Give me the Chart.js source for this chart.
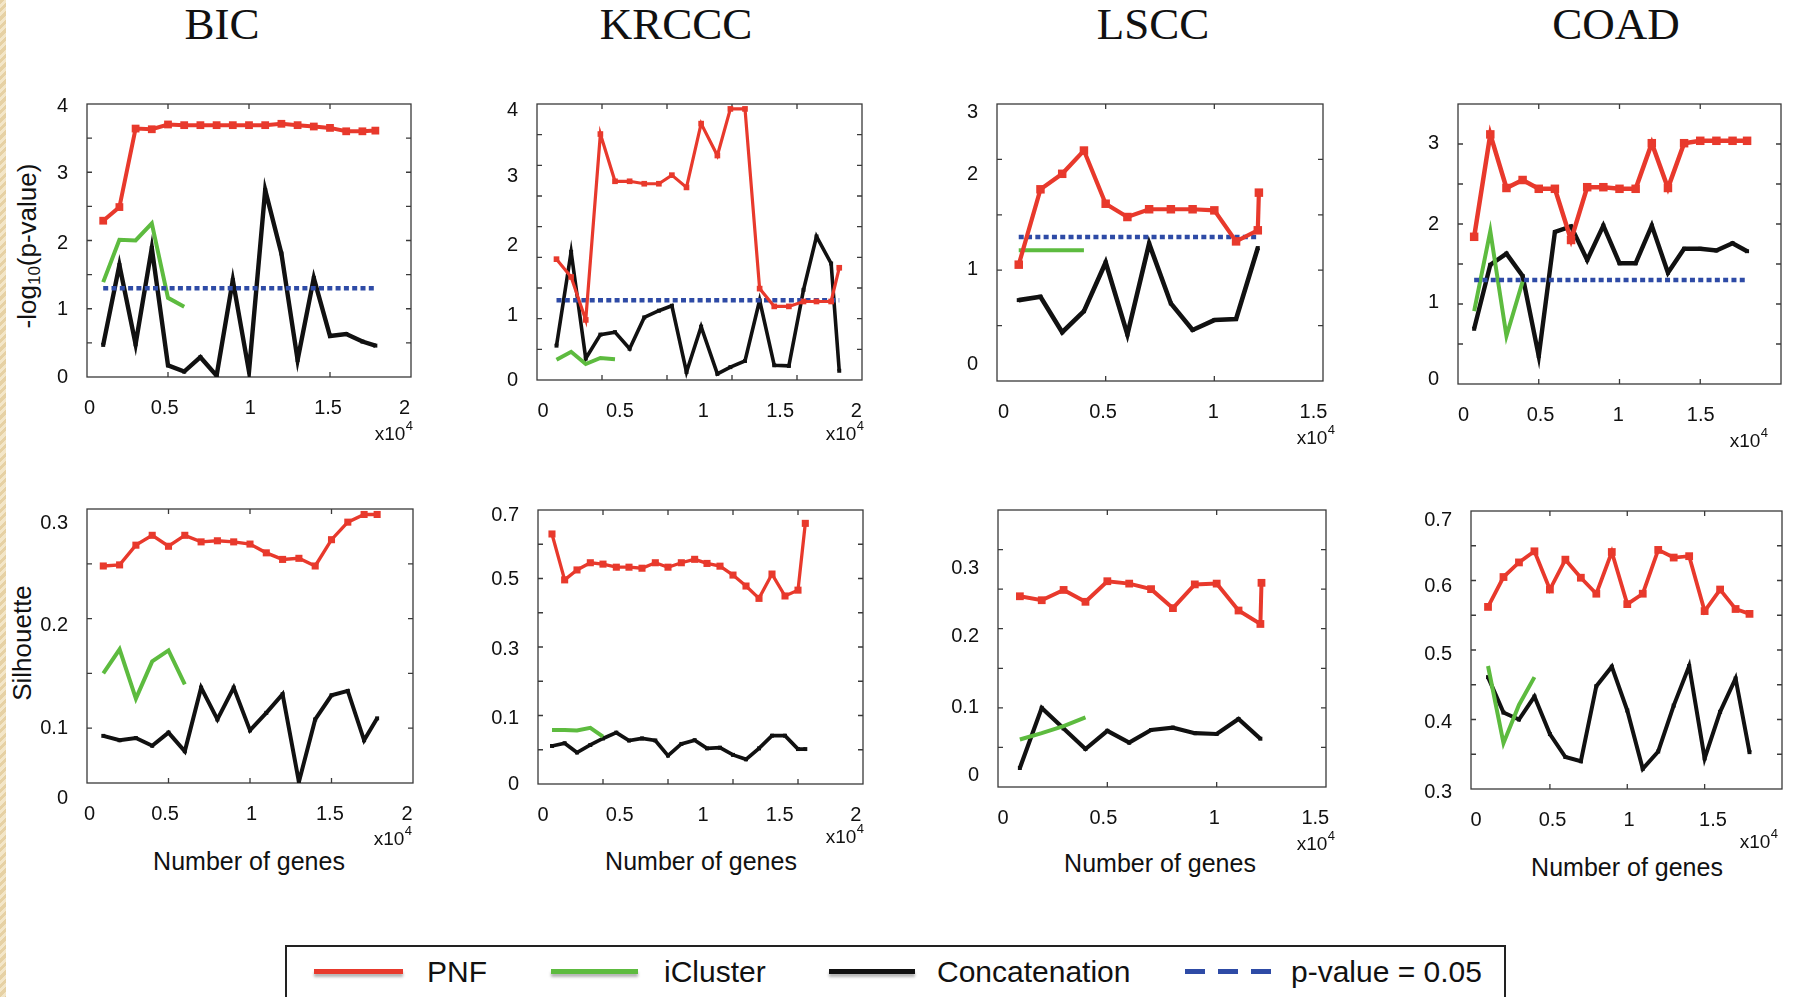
<!DOCTYPE html>
<html>
<head>
<meta charset="utf-8">
<script src="https://cdn.jsdelivr.net/npm/chart.js@4.4.0/dist/chart.umd.min.js"></script>
<style>
    body {
        margin: 0;
        width: 1796px;
        height: 997px;
        overflow: hidden;
        background: #fff;
        position: relative;
        font-family: Arial, "Liberation Sans", sans-serif;
        color: #111;
    }
    .strip {
        position: absolute; left: 0; top: 0; width: 6px; height: 997px;
        background: repeating-linear-gradient(135deg, #e6d1a4 0 3px, #f3e6c8 3px 6px);
    }
    .title {
        position: absolute; top: 2px; line-height: 45px;
        font-family: "Liberation Serif", "Times New Roman", serif;
        font-size: 45px; transform: translateX(-50%); white-space: nowrap;
    }
    .ytitle {
        position: absolute; font-size: 26px; white-space: nowrap;
        transform: translate(-50%, -50%) rotate(-90deg);
    }
    .ytitle sub { font-size: 17px; vertical-align: -4px; }
    .xtitle {
        position: absolute; font-size: 25px; line-height: 25px;
        transform: translateX(-50%); white-space: nowrap;
    }
    .legend {
        position: absolute; left: 285px; top: 945px; width: 1221px; height: 70px;
        border: 2px solid #222; box-sizing: border-box;
    }
    .sw {
        position: absolute; top: 969px; height: 5px;
        box-shadow: 0 3px 3px rgba(0, 0, 0, 0.3);
    }
    .lt {
        position: absolute; top: 957px; font-size: 30px; line-height: 30px; white-space: nowrap;
    }
</style>
</head>
<body>
<div class="strip"></div>

<div class="title" style="left:222px">BIC</div>
<div class="title" style="left:676px">KRCCC</div>
<div class="title" style="left:1153px">LSCC</div>
<div class="title" style="left:1616px">COAD</div>

<div class="ytitle" style="left:28px; top:246px">-log<sub>10</sub>(p-value)</div>
<div class="ytitle" style="left:22px; top:643px">Silhouette</div>

<div class="xtitle" style="left:249px; top:849px">Number of genes</div>
<div class="xtitle" style="left:701px; top:849px">Number of genes</div>
<div class="xtitle" style="left:1160px; top:851px">Number of genes</div>
<div class="xtitle" style="left:1627px; top:855px">Number of genes</div>

<div class="legend"></div>
<div class="sw" style="left:314px; width:89px; background:#e8392c"></div>
<div class="lt" style="left:427px">PNF</div>
<div class="sw" style="left:551px; width:87px; background:#5dbb3f"></div>
<div class="lt" style="left:664px">iCluster</div>
<div class="sw" style="left:829px; width:86px; background:#111"></div>
<div class="lt" style="left:937px">Concatenation</div>
<div class="sw" style="left:1185px; width:86px; background:repeating-linear-gradient(90deg, #2e4ba6 0 20px, transparent 20px 33px); box-shadow:none"></div>
<div class="lt" style="left:1291px">p-value = 0.05</div>

<script>
// ---- data (number of genes on x) ----
const bicGenes = [1000, 2000, 3000, 4000, 5000, 6000, 7000, 8000, 9000, 10000, 11000, 12000, 13000, 14000, 15000, 16000, 17000, 17800];
const bicPnfP = [2.29, 2.49, 3.64, 3.63, 3.70, 3.69, 3.69, 3.69, 3.69, 3.69, 3.69, 3.71, 3.69, 3.67, 3.65, 3.60, 3.60, 3.61];
const bicConcatP = [0.47, 1.64, 0.48, 1.89, 0.17, 0.08, 0.29, 0.02, 1.42, 0.08, 2.74, 1.81, 0.25, 1.45, 0.60, 0.63, 0.52, 0.46];
const bicIclusterP = [1.39, 2.01, 2.00, 2.25, 1.16, 1.03];
const bicPnfSil = [0.248, 0.249, 0.267, 0.276, 0.266, 0.276, 0.270, 0.271, 0.270, 0.268, 0.260, 0.254, 0.255, 0.248, 0.272, 0.288, 0.295, 0.295];
const bicConcatSil = [0.093, 0.089, 0.091, 0.084, 0.096, 0.079, 0.137, 0.108, 0.137, 0.098, 0.114, 0.131, 0.051, 0.108, 0.130, 0.134, 0.089, 0.109];
const bicIclusterSil = [0.150, 0.172, 0.127, 0.161, 0.171, 0.140];

const krcccTopGenes = [1200, 2100, 3000, 3900, 4800, 5700, 6600, 7500, 8300, 9200, 10100, 11100, 11900, 12800, 13700, 14600, 15500, 16400, 17200, 18100, 18600];
const krcccPnfP = [1.97, 1.68, 0.98, 4.01, 3.24, 3.24, 3.20, 3.20, 3.34, 3.14, 4.18, 3.66, 4.42, 4.42, 1.49, 1.20, 1.20, 1.28, 1.28, 1.28, 1.83];
const krcccConcatP = [0.56, 2.09, 0.35, 0.74, 0.78, 0.51, 1.02, 1.13, 1.21, 0.13, 0.87, 0.10, 0.21, 0.31, 1.30, 0.24, 0.23, 1.47, 2.34, 1.90, 0.15];
const krcccIclusterP = [0.33, 0.46, 0.26, 0.36, 0.34];
const krcccBotGenes = [860, 1640, 2400, 3220, 4000, 4820, 5600, 6400, 7220, 8000, 8820, 9640, 10400, 11200, 12000, 12800, 13600, 14400, 15200, 16000, 16450];
const krcccPnfSil = [0.730, 0.596, 0.625, 0.646, 0.642, 0.633, 0.633, 0.630, 0.646, 0.633, 0.646, 0.656, 0.644, 0.636, 0.610, 0.578, 0.542, 0.613, 0.549, 0.566, 0.761];
const krcccConcatSil = [0.111, 0.119, 0.092, 0.114, 0.133, 0.150, 0.127, 0.133, 0.127, 0.083, 0.117, 0.128, 0.104, 0.106, 0.085, 0.072, 0.104, 0.141, 0.141, 0.102, 0.102];
const krcccIclusterSil = [0.158, 0.158, 0.156, 0.164, 0.138];

const lsccGenes = [1000, 2000, 3000, 4000, 5000, 6000, 7000, 8000, 9000, 10000, 11000, 12000];
const lsccPnfGenes = [1000, 2000, 3000, 4000, 5000, 6000, 7000, 8000, 9000, 10000, 11000, 12000, 12050];
const lsccPnfP = [1.05, 1.73, 1.87, 2.08, 1.60, 1.48, 1.55, 1.55, 1.55, 1.54, 1.26, 1.36, 1.70];
const lsccConcatP = [0.73, 0.76, 0.44, 0.63, 1.07, 0.42, 1.24, 0.70, 0.46, 0.55, 0.56, 1.20];
const lsccIclusterP = [1.18, 1.18, 1.18, 1.18];
const lsccPnfSil = [0.241, 0.236, 0.249, 0.234, 0.260, 0.257, 0.250, 0.226, 0.256, 0.257, 0.223, 0.206, 0.258];
const lsccConcatSil = [0.024, 0.100, 0.074, 0.048, 0.071, 0.056, 0.072, 0.075, 0.068, 0.067, 0.086, 0.061];
const lsccIclusterSil = [0.060, 0.068, 0.077, 0.088];

const coadGenes = [1000, 2000, 3000, 4000, 5000, 6000, 7000, 8000, 9000, 10000, 11000, 12000, 13000, 14000, 15000, 16000, 17000, 17900];
const coadPnfP = [1.84, 3.12, 2.45, 2.55, 2.44, 2.44, 1.80, 2.46, 2.46, 2.44, 2.44, 3.01, 2.45, 3.01, 3.04, 3.04, 3.04, 3.04];
const coadConcatP = [0.69, 1.49, 1.63, 1.35, 0.35, 1.90, 1.97, 1.55, 1.98, 1.51, 1.51, 1.98, 1.39, 1.69, 1.69, 1.67, 1.76, 1.66];
const coadIclusterP = [0.91, 1.91, 0.60, 1.28];
const coadPnfSil = [0.562, 0.605, 0.626, 0.642, 0.587, 0.630, 0.604, 0.581, 0.641, 0.566, 0.581, 0.644, 0.633, 0.635, 0.556, 0.587, 0.559, 0.552];
const coadConcatSil = [0.461, 0.410, 0.400, 0.433, 0.379, 0.346, 0.340, 0.448, 0.476, 0.413, 0.329, 0.354, 0.420, 0.477, 0.344, 0.411, 0.459, 0.353];
const coadIclusterSil = [0.477, 0.366, 0.421, 0.461];

// p-value = 0.05 threshold line (-log10)
const pLineY = [1.3, 1.3];
const bicPLineX = [1000, 17800];
const krcccPLineX = [1200, 18600];
const lsccPLineX = [1000, 12000];
const coadPLineX = [1000, 17900];

// tick labels
const xText2 = ['0', '0.5', '1', '1.5', '2'];
const xText15 = ['0', '0.5', '1', '1.5'];
const yTextP4 = ['0', '1', '2', '3', '4'];
const yTextP3 = ['0', '1', '2', '3'];

const RED = '#e8392c', GREEN = '#5dbb3f', BLACK = '#111111', BLUE = '#2e4ba6';
Chart.defaults.font.family = 'Arial, "Liberation Sans", sans-serif';

const pad = { l: 70, t: 45, r: 45, b: 75 };

function series(xs, ys) {
    return ys.map((y, i) => ({ x: xs[i], y: y }));
}

// box, inward tick marks and the x10^4 exponent
const framePlugin = {
    id: 'frame',
    beforeDatasetsDraw(chart, args, opts) {
        const { ctx, chartArea: a, scales: { x, y } } = chart;
        ctx.save();
        ctx.strokeStyle = '#3a3a3a';
        ctx.lineWidth = 1.3;
        ctx.strokeRect(a.left, a.top, a.right - a.left, a.bottom - a.top);
        ctx.beginPath();
        opts.xMarks.forEach(v => {
            const px = x.getPixelForValue(v);
            ctx.moveTo(px, a.bottom); ctx.lineTo(px, a.bottom - 5);
            ctx.moveTo(px, a.top); ctx.lineTo(px, a.top + 5);
        });
        opts.yMarks.forEach(v => {
            const py = y.getPixelForValue(v);
            ctx.moveTo(a.left, py); ctx.lineTo(a.left + 5, py);
            ctx.moveTo(a.right, py); ctx.lineTo(a.right - 5, py);
        });
        ctx.stroke();
        ctx.restore();
    },
    afterDraw(chart, args, opts) {
        const { ctx, chartArea: a } = chart;
        ctx.save();
        ctx.fillStyle = '#111';
        ctx.font = '19px Arial, "Liberation Sans", sans-serif';
        const w1 = ctx.measureText('x10').width;
        const x0 = a.right - opts.expo[0] - (w1 + 10) / 2;
        const by = a.bottom + opts.expo[1];
        ctx.fillText('x10', x0, by);
        ctx.font = '13px Arial, "Liberation Sans", sans-serif';
        ctx.fillText('4', x0 + w1 + 0.5, by - 10);
        ctx.restore();
    }
};

const panels = [
    // top row: -log10(p-value)
    { box: [87, 104, 411, 377], xr: [0, 20000], yr: [0, 4],
      xTicks: [160, 4790, 10080, 14880, 19610], xText: xText2,
      yTicks: [0, 0.985, 1.96, 2.985, 3.96], yText: yTextP4,
      xMarks: [5000, 10000, 15000], yMarks: [0.5, 1, 1.5, 2, 2.5, 3, 3.5], expo: [16, 63],
      genes: bicGenes, pnfGenes: bicGenes, pnf: bicPnfP, concat: bicConcatP, icl: bicIclusterP, pLineX: bicPLineX,
      st: { redW: 4, redR: 5.5, blackW: 4.4 } },
    { box: [537, 104, 862, 380], xr: [0, 20000], yr: [0, 4.5],
      xTicks: [370, 5100, 10240, 14960, 19650], xText: xText2,
      yTicks: [0, 1.06, 2.20, 3.32, 4.40], yText: yTextP4,
      xMarks: [4000, 8000, 12000, 16000], yMarks: [0.5, 1, 1.5, 2, 2.5, 3, 3.5, 4], expo: [16, 60],
      genes: krcccTopGenes, pnfGenes: krcccTopGenes, pnf: krcccPnfP, concat: krcccConcatP, icl: krcccIclusterP, pLineX: krcccPLineX,
      st: { redW: 3.2, redR: 4, blackW: 3.6 } },
    { box: [997, 104, 1323, 381], xr: [0, 15000], yr: [0, 2.5],
      xTicks: [300, 4880, 9950, 14560], xText: xText15,
      yTicks: [0.145, 1.01, 1.86, 2.42], yText: yTextP3,
      xMarks: [5000, 10000], yMarks: [0.5, 1, 1.5, 2], expo: [6, 63],
      genes: lsccGenes, pnfGenes: lsccPnfGenes, pnf: lsccPnfP, concat: lsccConcatP, icl: lsccIclusterP, pLineX: lsccPLineX,
      st: { redW: 4.2, redR: 6, blackW: 4.6 } },
    { box: [1458, 104, 1781, 384], xr: [0, 20000], yr: [0, 3.5],
      xTicks: [350, 5110, 9920, 15030], xText: xText15,
      yTicks: [0.06, 1.02, 2.0, 3.01], yText: yTextP3,
      xMarks: [5000, 10000, 15000], yMarks: [0.5, 1, 1.5, 2, 2.5, 3], expo: [31, 63],
      genes: coadGenes, pnfGenes: coadGenes, pnf: coadPnfP, concat: coadConcatP, icl: coadIclusterP, pLineX: coadPLineX,
      st: { redW: 4.5, redR: 6, blackW: 4.4 } },
    // bottom row: silhouette
    { box: [87, 509, 413, 783], xr: [0, 20000], yr: [0.05, 0.3],
      xTicks: [150, 4790, 10090, 14900, 19640], xText: xText2,
      yTicks: [0.036, 0.100, 0.194, 0.287], yText: ['0', '0.1', '0.2', '0.3'],
      xMarks: [5000, 10000, 15000], yMarks: [0.1, 0.15, 0.2, 0.25], expo: [19, 62],
      genes: bicGenes, pnfGenes: bicGenes, pnf: bicPnfSil, concat: bicConcatSil, icl: bicIclusterSil,
      st: { redW: 3.4, redR: 5, blackW: 4 } },
    { box: [538, 510, 863, 784], xr: [0, 20000], yr: [0, 0.8],
      xTicks: [310, 5030, 10150, 14870, 19550], xText: xText2,
      yTicks: [0, 0.192, 0.393, 0.598, 0.785], yText: ['0', '0.1', '0.3', '0.5', '0.7'],
      xMarks: [4000, 8000, 12000, 16000], yMarks: [0.1, 0.2, 0.3, 0.4, 0.5, 0.6, 0.7], expo: [17, 59],
      genes: krcccBotGenes, pnfGenes: krcccBotGenes, pnf: krcccPnfSil, concat: krcccConcatSil, icl: krcccIclusterSil,
      st: { redW: 3.3, redR: 5, blackW: 3.7 } },
    { box: [998, 510, 1326, 787], xr: [0, 15000], yr: [0, 0.35],
      xTicks: [230, 4820, 9890, 14510], xText: xText15,
      yTicks: [0.0147, 0.101, 0.190, 0.276], yText: ['0', '0.1', '0.2', '0.3'],
      xMarks: [5000, 10000], yMarks: [0.05, 0.1, 0.15, 0.2, 0.25, 0.3], expo: [9, 63],
      genes: lsccGenes, pnfGenes: lsccPnfGenes, pnf: lsccPnfSil, concat: lsccConcatSil, icl: lsccIclusterSil,
      st: { redW: 4, redR: 5.5, blackW: 4.2 } },
    { box: [1471, 511, 1782, 789], xr: [-100, 20000], yr: [0.3, 0.7],
      xTicks: [230, 5170, 10120, 15540], xText: xText15,
      yTicks: [0.295, 0.395, 0.493, 0.591, 0.686], yText: ['0.3', '0.4', '0.5', '0.6', '0.7'],
      xMarks: [5000, 10000, 15000], yMarks: [0.35, 0.4, 0.45, 0.5, 0.55, 0.6, 0.65], expo: [22, 59],
      genes: coadGenes, pnfGenes: coadGenes, pnf: coadPnfSil, concat: coadConcatSil, icl: coadIclusterSil,
      st: { redW: 3.8, redR: 5.5, blackW: 4 } }
];

function makePanel(p) {
    const w = p.box[2] - p.box[0] + pad.l + pad.r;
    const h = p.box[3] - p.box[1] + pad.t + pad.b;
    const canvas = document.createElement('canvas');
    canvas.width = w;
    canvas.height = h;
    canvas.style.cssText = 'position:absolute;left:' + (p.box[0] - pad.l) + 'px;top:' + (p.box[1] - pad.t) +
        'px;width:' + w + 'px;height:' + h + 'px';
    document.body.appendChild(canvas);

    const datasets = [{
        label: 'PNF',
        data: series(p.pnfGenes, p.pnf),
        borderColor: RED, backgroundColor: RED,
        borderWidth: p.st.redW,
        pointStyle: 'rect', pointRadius: p.st.redR, pointBorderWidth: 0
    }];
    if (p.pLineX) {
        datasets.push({
            label: 'p-value = 0.05',
            data: series(p.pLineX, pLineY),
            borderColor: BLUE, borderWidth: 4.5, borderDash: [5, 3.3], borderCapStyle: 'butt',
            pointRadius: 0
        });
    }
    datasets.push({
        label: 'iCluster',
        data: series(p.genes, p.icl),
        borderColor: GREEN, borderWidth: 4, pointRadius: 0
    });
    datasets.push({
        label: 'Concatenation',
        data: series(p.genes, p.concat),
        borderColor: BLACK, backgroundColor: BLACK,
        borderWidth: p.st.blackW,
        pointStyle: 'rect', pointRadius: 2.8, pointBorderWidth: 0
    });

    const tickFont = { size: 20 };
    new Chart(canvas, {
        type: 'line',
        data: { datasets: datasets },
        options: {
            responsive: false,
            animation: false,
            events: [],
            elements: { line: { tension: 0, borderJoinStyle: 'miter' } },
            layout: { padding: { top: pad.t, right: pad.r, left: 0, bottom: 0 } },
            plugins: {
                legend: { display: false },
                tooltip: { enabled: false },
                frame: { xMarks: p.xMarks, yMarks: p.yMarks, expo: p.expo }
            },
            scales: {
                x: {
                    type: 'linear', min: p.xr[0], max: p.xr[1],
                    grid: { display: false, drawTicks: false }, border: { display: false },
                    afterBuildTicks: s => { s.ticks = p.xTicks.map(v => ({ value: v })); },
                    afterFit: s => { s.height = pad.b; },
                    ticks: {
                        autoSkip: false, maxRotation: 0, padding: 19, color: '#111', font: tickFont,
                        callback: (v, i) => p.xText[i]
                    }
                },
                y: {
                    type: 'linear', min: p.yr[0], max: p.yr[1],
                    grid: { display: false, drawTicks: false }, border: { display: false },
                    afterBuildTicks: s => { s.ticks = p.yTicks.map(v => ({ value: v })); },
                    afterFit: s => { s.width = pad.l; },
                    ticks: {
                        autoSkip: false, padding: 19, color: '#111', font: tickFont,
                        callback: (v, i) => p.yText[i]
                    }
                }
            }
        },
        plugins: [framePlugin]
    });
}

panels.forEach(makePanel);
</script>
</body>
</html>
